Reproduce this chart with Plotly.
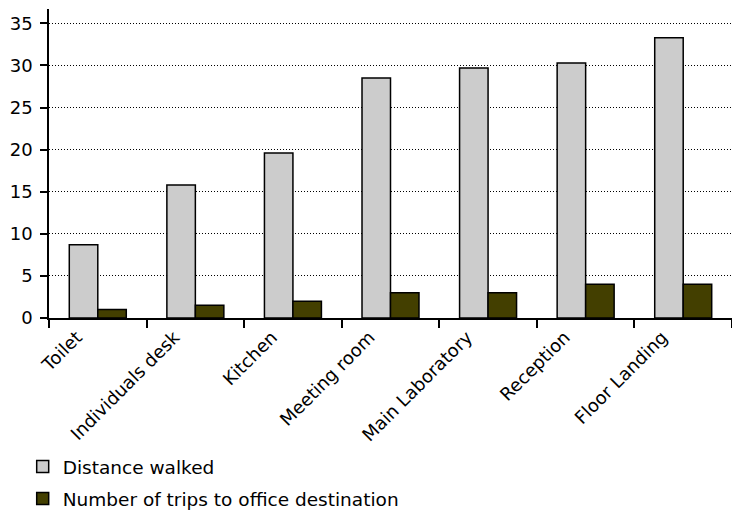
import plotly.graph_objects as go

categories = ["Toilet", "Individuals desk", "Kitchen", "Meeting room",
              "Main Laboratory", "Reception", "Floor Landing"]
distance_walked = [8.7, 15.8, 19.6, 28.5, 29.7, 30.3, 33.3]
trips = [1.0, 1.5, 2.0, 3.0, 3.0, 4.0, 4.0]
y_ticks = [0, 5, 10, 15, 20, 25, 30, 35]

FONT = "DejaVu Sans"

fig = go.Figure()
fig.add_trace(go.Bar(
    x=categories, y=distance_walked, name="Distance walked",
    marker=dict(color="#CCCCCC", line=dict(color="black", width=1.5)),
    legendgroup="a",
))
fig.add_trace(go.Bar(
    x=categories, y=trips, name="Number of trips to office destination",
    marker=dict(color="#433F00", line=dict(color="black", width=1.5)),
    legendgroup="b",
))

fig.update_layout(
    width=732, height=513,
    margin=dict(l=49, r=0, t=9, b=195, autoexpand=False),
    barmode="group", bargap=0.416, bargroupgap=0,
    plot_bgcolor="white", paper_bgcolor="white",
    font=dict(family=FONT, size=18, color="black"),
    showlegend=True,
    legend=dict(
        xref="container", yref="container",
        x=0.031, y=(513 - 448) / 513, xanchor="left", yanchor="top",
        font=dict(family=FONT, size=18.5, color="black"),
        traceorder="grouped", tracegroupgap=5,
        bgcolor="rgba(0,0,0,0)", itemwidth=30,
    ),
    xaxis=dict(
        showline=True, linecolor="black", linewidth=1.5,
        ticks="outside", ticklen=8, tickcolor="black", tickwidth=1.5,
        tickson="boundaries", tickangle=-45,
        showgrid=False, ticklabelshift=-21,
        tickfont=dict(family=FONT, size=18),
        automargin=False,
    ),
    yaxis=dict(
        range=[0, 36.7], tickvals=y_ticks,
        showline=True, linecolor="black", linewidth=1.5,
        ticks="outside", ticklen=7, tickcolor="black", tickwidth=1.5,
        showgrid=True, gridcolor="black", gridwidth=1, griddash="1px,2px",
        zeroline=False, automargin=False, ticklabelstandoff=4,
        tickfont=dict(family=FONT, size=18),
    ),
)

fig.write_html("out.html")
